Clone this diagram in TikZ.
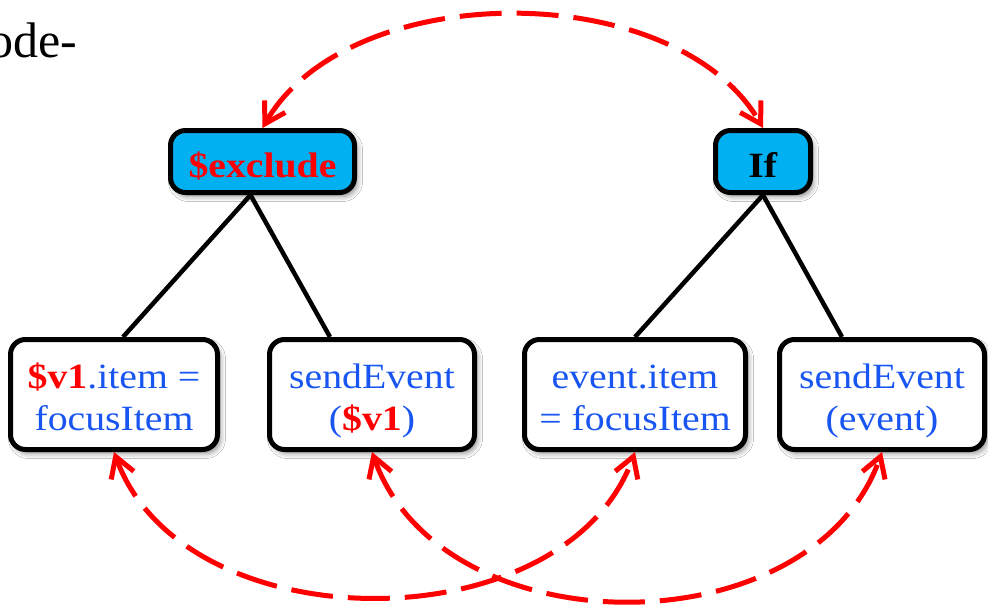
\documentclass[tikz,border=0pt]{standalone}
\usepackage{fontspec}
\setmainfont{Liberation Serif}
\newfontfamily\boxfont[FakeStretch=1.12]{Liberation Serif}
\usetikzlibrary{arrows.meta,shadows.blur}
\definecolor{codeblue}{RGB}{25,85,240}
\definecolor{varred}{RGB}{255,0,0}
\definecolor{headfill}{RGB}{0,176,240}

\tikzset{
  treebox/.style={draw=black, line width=5pt, rounded corners=15pt, align=center,
    inner sep=0pt, font=\boxfont\fontsize{35.5}{42}\selectfont,
    blur shadow={shadow xshift=3pt, shadow yshift=-4pt, shadow blur radius=5pt, shadow opacity=45}},
  % fixed text box heights place the text lines inside the boxes
  headbox/.style={treebox, fill=headfill, minimum height=62pt,
    text height=36pt, text depth=5pt},
  leafbox/.style={treebox, fill=white, minimum height=110pt, text=codeblue,
    text height=79pt, text depth=8pt},
  branch/.style={line width=4.5pt, black},
  link/.style={draw=varred, line width=5pt, dash pattern=on 42pt off 15pt,
    {Straight Barb[length=20pt,width=24pt]}-{Straight Barb[length=20pt,width=24pt]}},
}
\newcommand{\varname}[1]{\textbf{\color{varred}#1}}

\begin{document}
\begin{tikzpicture}[x=1pt,y=-1pt]
  \fill[white] (0,0) rectangle (988,606);
  \useasboundingbox (0,0) rectangle (988,606);

  % heading fragment
  \node[anchor=base west, inner sep=0pt, font=\fontsize{50}{60}\selectfont] (ttl) at (-12,57) {ode-};

  % parent nodes
  \node[headbox, minimum width=184pt] (ex) at (262.5,161.5) {\varname{\$exclude}};
  \node[headbox, minimum width=95pt] (if) at (763,161.5) {\textbf{If}};

  % child nodes
  \node[leafbox, minimum width=207pt] (b1) at (114,394.5) {\varname{\$v1}.item =\\focusItem};
  \node[leafbox, minimum width=205pt] (b2) at (372,394.5) {sendEvent\\(\varname{\$v1})};
  \node[leafbox, minimum width=221pt] (b3) at (635,394.5) {event.item\\= focusItem};
  \node[leafbox, minimum width=205pt] (b4) at (882,394.5) {sendEvent\\(event)};

  % tree edges
  \draw[branch] ([xshift=-12pt]ex.south) -- ([xshift=9pt]b1.north);
  \draw[branch] ([xshift=-12pt]ex.south) -- ([xshift=-42pt]b2.north);
  \draw[branch] (if.south) -- (b3.north);
  \draw[branch] (if.south) -- ([xshift=-40pt]b4.north);

  % correspondences
  \draw[link] (ex.north) .. controls +(87,-151) and +(-87,-151) .. (if.north);
  \draw[link] (b1.south) .. controls +(70,193) and +(-70,193) .. (b3.south);
  \draw[link] (b2.south) .. controls +(70,198) and +(-70,198) .. (b4.south);
\end{tikzpicture}
\end{document}
